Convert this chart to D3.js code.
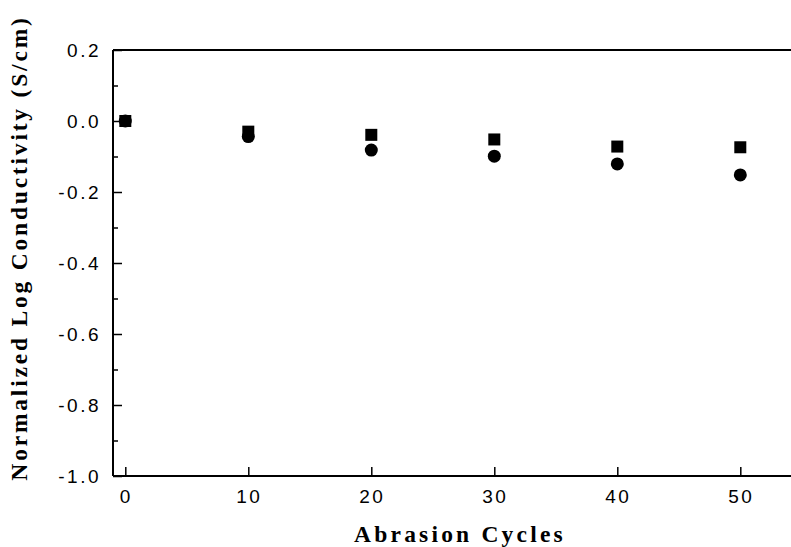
<!DOCTYPE html>
<html><head><meta charset="utf-8">
<script src="https://cdn.jsdelivr.net/npm/d3@7"></script>
<style>html,body{margin:0;padding:0;background:#fff;overflow:hidden}</style>
</head><body>
<svg id="chart" width="791" height="547"></svg>
<script>
const cycles = [0, 10, 20, 30, 40, 50];
const squareSeries = [0, -0.030, -0.039, -0.052, -0.072, -0.074];
const circleSeries = [0, -0.044, -0.082, -0.099, -0.121, -0.152];
const xTicks = [0, 10, 20, 30, 40, 50];
const yTicks = [0.2, 0.0, -0.2, -0.4, -0.6, -0.8, -1.0];
const yMinorTicks = [0.1, -0.1, -0.3, -0.5, -0.7, -0.9];

const svg = d3.select("#chart");
const mLeft = 113, mTop = 50, mBottom = 476;
const x = d3.scaleLinear().domain([-1, 55]).range([mLeft, mLeft + 56 * 12.3]);
const y = d3.scaleLinear().domain([-1.0, 0.2]).range([mBottom, mTop]);

const g = svg.append("g");

// top frame line (right edge lies outside the picture)
g.append("line").attr("x1", mLeft).attr("x2", 800).attr("y1", mTop).attr("y2", mTop)
  .attr("stroke", "#000").attr("stroke-width", 2);

// Y axis
const yAxis = d3.axisRight(y).tickValues(yTicks).tickSize(9).tickFormat("");
const ya = g.append("g").attr("transform", `translate(${mLeft},0)`).call(yAxis);
ya.select(".domain").attr("stroke-width", 2).attr("d", `M0,${mTop}V${mBottom}`);
ya.selectAll(".tick line").attr("stroke-width", 1.5);
const yMinor = d3.axisRight(y).tickValues(yMinorTicks).tickSize(5).tickFormat("");
const ym = g.append("g").attr("transform", `translate(${mLeft},0)`).call(yMinor);
ym.select(".domain").remove();
ym.selectAll(".tick line").attr("stroke-width", 1.5);

// Y labels
g.selectAll(".ylab").data(yTicks).join("text")
  .attr("class", "ylab")
  .attr("x", 101).attr("y", d => y(d)).attr("dy", "0.36em")
  .attr("text-anchor", "end")
  .attr("font-family", "Liberation Sans, Arial, sans-serif")
  .attr("font-size", 19).attr("letter-spacing", "2.5px")
  .text(d => d.toFixed(1));

// X axis
const xAxis = d3.axisTop(x).tickValues(xTicks).tickSize(9).tickFormat("");
const xa = g.append("g").attr("transform", `translate(0,${mBottom})`).call(xAxis);
xa.select(".domain").attr("stroke-width", 2).attr("d", `M${mLeft},0H800`);
xa.selectAll(".tick line").attr("stroke-width", 1.5);

g.selectAll(".xlab").data(xTicks).join("text")
  .attr("class", "xlab")
  .attr("x", d => x(d) + 1).attr("y", 503)
  .attr("text-anchor", "middle")
  .attr("font-family", "Liberation Sans, Arial, sans-serif")
  .attr("font-size", 19).attr("letter-spacing", "2.5px")
  .text(d => d);

// markers
const sq = 12;
g.selectAll(".sq").data(cycles).join("rect")
  .attr("class", "sq")
  .attr("x", (d) => x(d) - sq / 2)
  .attr("y", (d, i) => y(squareSeries[i]) - sq / 2)
  .attr("width", sq).attr("height", sq).attr("fill", "#000");
g.selectAll(".ci").data(cycles).join("circle")
  .attr("class", "ci")
  .attr("cx", d => x(d))
  .attr("cy", (d, i) => y(circleSeries[i]))
  .attr("r", 6.5).attr("fill", "#000");

// axis titles
svg.append("text")
  .attr("x", 460).attr("y", 542)
  .attr("text-anchor", "middle")
  .attr("font-family", "Liberation Serif, Times New Roman, serif")
  .attr("font-weight", "bold").attr("font-size", 23.5).attr("letter-spacing", "3.2px")
  .text("Abrasion Cycles");

svg.append("text")
  .attr("transform", "translate(27,248) rotate(-90)")
  .attr("text-anchor", "middle")
  .attr("font-family", "Liberation Serif, Times New Roman, serif")
  .attr("font-weight", "bold").attr("font-size", 23.5).attr("letter-spacing", "2.8px")
  .text("Normalized Log Conductivity (S/cm)");
</script>
</body></html>
